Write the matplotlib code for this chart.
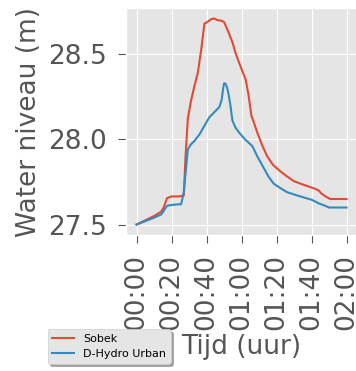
import matplotlib
matplotlib.use("Agg")
import matplotlib.pyplot as plt
from matplotlib.ticker import FixedLocator, FuncFormatter

plt.style.use("ggplot")

# tijd in minuten
t_sobek = [0, 5, 10, 14, 15.5, 17.4, 20, 24, 27, 28, 29.3, 31, 33, 35, 37, 38.8, 40.6, 42.5,
           44.4, 46.3, 48, 50, 52.5, 54.8, 56.5, 58.6, 60.5, 62.4, 64, 65.6, 67, 69, 72, 74.7,
           78, 81.3, 85, 89.8, 95, 102, 104, 105.9, 108, 110.6, 114, 120]
h_sobek = [27.50, 27.525, 27.55, 27.575, 27.60, 27.655, 27.665, 27.665, 27.67, 27.90, 28.12,
           28.22, 28.31, 28.39, 28.53, 28.68, 28.69, 28.705, 28.71, 28.70, 28.698, 28.69,
           28.63, 28.57, 28.51, 28.45, 28.40, 28.35, 28.26, 28.14, 28.10, 28.04, 27.96, 27.90,
           27.85, 27.82, 27.79, 27.755, 27.735, 27.71, 27.70, 27.68, 27.665, 27.65, 27.65, 27.65]

t_dhydro = [0, 5, 10, 14.2, 15.5, 17.4, 20, 25.5, 27, 28, 29.3, 31, 33, 36, 38.8, 41.6, 44.5,
            47.3, 48.6, 49.5, 50.1, 51, 51.6, 52.5, 53.5, 54.8, 56.5, 58.6, 62, 66.2, 69, 72.8,
            75.5, 78.4, 82, 86, 92, 100.2, 104, 107.8, 110, 112.5, 120]
h_dhydro = [27.50, 27.52, 27.54, 27.56, 27.58, 27.61, 27.615, 27.62, 27.69, 27.80, 27.94,
            27.97, 27.99, 28.03, 28.08, 28.13, 28.16, 28.19, 28.23, 28.30, 28.33, 28.325,
            28.31, 28.27, 28.21, 28.11, 28.07, 28.04, 28.00, 27.96, 27.90, 27.83, 27.78,
            27.74, 27.715, 27.69, 27.67, 27.645, 27.625, 27.61, 27.60, 27.60, 27.60]

xticks = [0, 20, 40, 60, 80, 100, 120]


def hhmm(x, pos):
    m = int(round(x))
    return "%02d:%02d" % (m // 60, m % 60)


fig = plt.figure(figsize=(3.56, 3.71), dpi=100)
ax = fig.add_axes([0.354, 0.367, 0.649, 0.611])

l1, = ax.plot(t_sobek, h_sobek, label="Sobek")
l2, = ax.plot(t_dhydro, h_dhydro, label="D-Hydro Urban")

ax.xaxis.set_major_locator(FixedLocator(xticks))
ax.xaxis.set_major_formatter(FuncFormatter(hhmm))
ax.set_yticks([27.5, 28.0, 28.5])
ax.tick_params(axis="both", labelsize=19, length=5.5, pad=8)
ax.tick_params(axis="x", labelrotation=90)

ax.set_xlabel("Tijd (uur)", fontsize=19, labelpad=3)
ax.set_ylabel("Water niveau (m)", fontsize=19, labelpad=5)

fig.legend(handles=[l1, l2], loc="lower left", bbox_to_anchor=(0.118, 0.005),
           bbox_transform=fig.transFigure, fontsize=8, shadow=True, frameon=True)

fig.savefig("out.png", dpi=100)
